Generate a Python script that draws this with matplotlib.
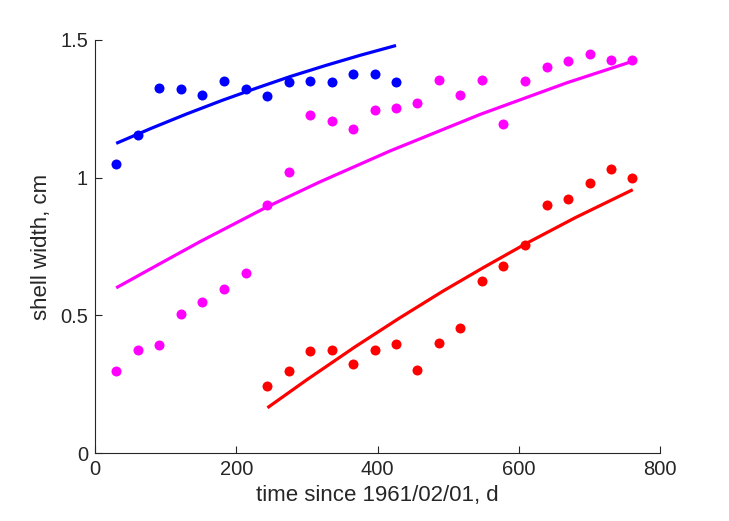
import numpy as np
import matplotlib.pyplot as plt

plt.rcParams['font.family'] = ['Liberation Sans', 'DejaVu Sans']

# days since 1961/02/01 for each sample
days_blue = [30, 61, 91, 122, 152, 183, 213, 243, 274, 304, 335, 365, 396, 426]
width_blue = [1.049, 1.155, 1.326, 1.323, 1.299, 1.352, 1.320, 1.294, 1.346,
              1.351, 1.346, 1.376, 1.375, 1.347]

days_magenta = [30, 61, 91, 122, 152, 183, 213, 243, 274, 304, 335, 365, 396,
                426, 456, 487, 517, 548, 578, 609, 639, 669, 700, 730, 760]
width_magenta = [0.300, 0.375, 0.393, 0.504, 0.549, 0.596, 0.653, 0.900, 1.021,
                 1.226, 1.205, 1.176, 1.245, 1.253, 1.270, 1.354, 1.298, 1.354,
                 1.196, 1.350, 1.400, 1.421, 1.449, 1.426, 1.425]

days_red = [243, 274, 304, 335, 365, 396, 426, 456, 487, 517, 548, 578, 609,
            639, 669, 700, 730, 760]
width_red = [0.245, 0.298, 0.371, 0.374, 0.323, 0.376, 0.396, 0.301, 0.401,
             0.453, 0.626, 0.679, 0.756, 0.901, 0.921, 0.981, 1.032, 0.997]

# fitted growth curves
fit_days_blue = [30, 80, 129, 180, 228, 277, 327, 376, 426]
fit_blue = [1.124, 1.179, 1.230, 1.280, 1.324, 1.367, 1.407, 1.444, 1.479]

fit_days_magenta = [30, 90, 149, 243, 318, 418, 545, 668, 760]
fit_magenta = [0.600, 0.685, 0.768, 0.893, 0.984, 1.097, 1.229, 1.344, 1.421]

fit_days_red = [244, 300, 368, 430, 493, 550, 611, 680, 761]
fit_red = [0.165, 0.267, 0.386, 0.489, 0.589, 0.674, 0.762, 0.855, 0.956]

xticks = [0, 200, 400, 600, 800]
yticks = [0, 0.5, 1, 1.5]
ytick_labels = ['0', '0.5', '1', '1.5']

fig = plt.figure(figsize=(7.29, 5.21), dpi=100)
ax = fig.add_axes([0.1303, 0.13, 0.7755, 0.7938])

series = [
    (days_blue, width_blue, fit_days_blue, fit_blue, '#0000ff'),
    (days_magenta, width_magenta, fit_days_magenta, fit_magenta, '#ff00ff'),
    (days_red, width_red, fit_days_red, fit_red, '#ff0000'),
]
for d, w, fd, fw, c in series:
    ax.plot(fd, fw, '-', color=c, lw=2.3, solid_capstyle='butt',
            solid_joinstyle='round')
    ax.plot(d, w, 'o', color=c, ms=7.2, mec='none')

ax.set_xlim(0, 800)
ax.set_ylim(0, 1.5)
ax.set_xticks(xticks)
ax.set_yticks(yticks)
ax.set_yticklabels(ytick_labels)

dark = '#262626'
for s in ['top', 'right']:
    ax.spines[s].set_visible(False)
for s in ['left', 'bottom']:
    ax.spines[s].set_color(dark)
    ax.spines[s].set_linewidth(0.8)
ax.tick_params(direction='in', length=5, width=0.8, colors=dark,
               labelsize=14.5, pad=5)

ax.set_xlabel('time since 1961/02/01, d', fontsize=16, color=dark, labelpad=4)
ax.set_ylabel('shell width, cm', fontsize=16, color=dark, labelpad=6)

fig.savefig('out.png', dpi=100)
